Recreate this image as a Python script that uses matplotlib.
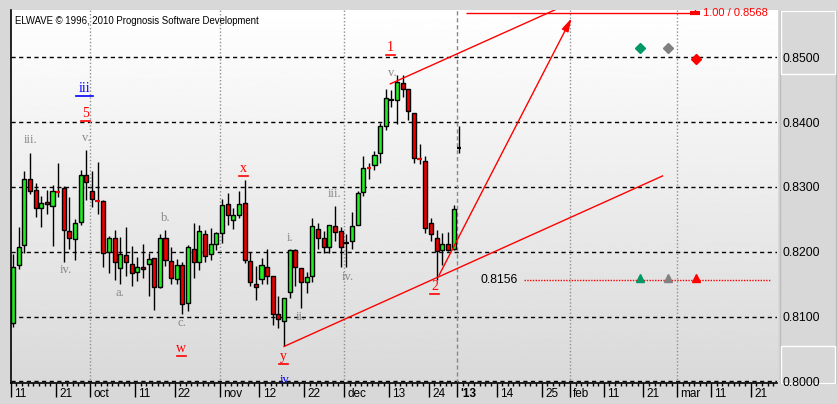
import numpy as np
import matplotlib.pyplot as plt
from matplotlib.patches import Rectangle
from matplotlib.transforms import ScaledTranslation

# ── Data: daily bars, Sep 11 2012 .. Jan 2 2013 (trading-day index) ───────────
opens  = [0.8090, 0.8180, 0.8210, 0.8313, 0.8296, 0.8267, 0.8277, 0.8271, 0.8293, 0.8299,
          0.8232, 0.8219, 0.8246, 0.8318, 0.8293, 0.8280, 0.8279, 0.8199, 0.8222, 0.8175,
          0.8195, 0.8181, 0.8169, 0.8177, 0.8181, 0.8190, 0.8146, 0.8221, 0.8186, 0.8158,
          0.8179, 0.8121, 0.8205, 0.8185, 0.8227, 0.8196, 0.8212, 0.8229, 0.8274, 0.8249,
          0.8256, 0.8275, 0.8186, 0.8151, 0.8158, 0.8177, 0.8162, 0.8104, 0.8094, 0.8138,
          0.8203, 0.8175, 0.8153, 0.8163, 0.8235, 0.8221, 0.8208, 0.8240, 0.8232, 0.8213,
          0.8216, 0.8242, 0.8292, 0.8331, 0.8334, 0.8352, 0.8394, 0.8434, 0.8434, 0.8461,
          0.8451, 0.8414, 0.8344, 0.8340, 0.8245, 0.8222, 0.8203, 0.8212, 0.8204, 0.8360]
highs  = [0.8197, 0.8238, 0.8324, 0.8353, 0.8306, 0.8286, 0.8296, 0.8303, 0.8337, 0.8301,
          0.8284, 0.8251, 0.8326, 0.8357, 0.8325, 0.8338, 0.8280, 0.8224, 0.8234, 0.8223,
          0.8239, 0.8209, 0.8192, 0.8212, 0.8198, 0.8190, 0.8227, 0.8234, 0.8207, 0.8189,
          0.8185, 0.8210, 0.8244, 0.8241, 0.8233, 0.8236, 0.8231, 0.8281, 0.8290, 0.8267,
          0.8294, 0.8311, 0.8200, 0.8178, 0.8190, 0.8204, 0.8163, 0.8132, 0.8129, 0.8204,
          0.8204, 0.8175, 0.8169, 0.8252, 0.8244, 0.8232, 0.8241, 0.8271, 0.8239, 0.8227,
          0.8262, 0.8293, 0.8348, 0.8337, 0.8355, 0.8398, 0.8451, 0.8450, 0.8473, 0.8473,
          0.8451, 0.8414, 0.8367, 0.8347, 0.8252, 0.8233, 0.8229, 0.8230, 0.8272, 0.8394]
lows   = [0.8084, 0.8173, 0.8198, 0.8289, 0.8253, 0.8239, 0.8259, 0.8209, 0.8285, 0.8185,
          0.8205, 0.8187, 0.8241, 0.8280, 0.8269, 0.8259, 0.8177, 0.8168, 0.8157, 0.8151,
          0.8162, 0.8147, 0.8155, 0.8159, 0.8132, 0.8110, 0.8144, 0.8178, 0.8151, 0.8150,
          0.8104, 0.8108, 0.8159, 0.8172, 0.8185, 0.8188, 0.8203, 0.8214, 0.8241, 0.8235,
          0.8252, 0.8183, 0.8148, 0.8125, 0.8150, 0.8150, 0.8087, 0.8082, 0.8054, 0.8128,
          0.8147, 0.8114, 0.8136, 0.8154, 0.8205, 0.8198, 0.8198, 0.8216, 0.8177, 0.8176,
          0.8205, 0.8241, 0.8286, 0.8312, 0.8326, 0.8337, 0.8388, 0.8423, 0.8397, 0.8439,
          0.8403, 0.8337, 0.8336, 0.8229, 0.8216, 0.8156, 0.8180, 0.8202, 0.8203, 0.8352]
closes = [0.8177, 0.8208, 0.8312, 0.8294, 0.8267, 0.8275, 0.8273, 0.8293, 0.8292, 0.8234,
          0.8221, 0.8245, 0.8318, 0.8307, 0.8281, 0.8279, 0.8198, 0.8221, 0.8184, 0.8196,
          0.8184, 0.8167, 0.8177, 0.8173, 0.8189, 0.8146, 0.8221, 0.8188, 0.8160, 0.8179,
          0.8120, 0.8207, 0.8184, 0.8232, 0.8194, 0.8212, 0.8229, 0.8272, 0.8257, 0.8257,
          0.8274, 0.8188, 0.8153, 0.8146, 0.8179, 0.8163, 0.8104, 0.8096, 0.8128, 0.8203,
          0.8176, 0.8153, 0.8161, 0.8240, 0.8222, 0.8207, 0.8241, 0.8231, 0.8207, 0.8213,
          0.8240, 0.8290, 0.8329, 0.8330, 0.8350, 0.8394, 0.8437, 0.8434, 0.8462, 0.8451,
          0.8417, 0.8344, 0.8343, 0.8236, 0.8227, 0.8201, 0.8212, 0.8203, 0.8266, 0.8360]

# x-axis ticks (trading-day index) and labels
tick_idx    = [0, 8, 14, 22, 29, 37, 44, 52, 59, 67, 74, 79, 86, 94, 99, 105, 112, 118, 124, 131]
tick_labels = ["11", "21", "oct", "11", "22", "nov", "12", "22", "dec", "13", "24", "'13",
               "14", "25", "feb", "11", "21", "mar", "11", "21"]
month_idx = [14, 37, 59, 99, 118]
year_idx  = [79]

# Elliott wave labels: (text, index, price, colour, underlined)
wave_labels = [
    ("iii.", 3.1, 0.8372, "gray", False), ("iii", 12.7, 0.8452, "blue", True),
    ("5", 12.85, 0.8414, "red", True),    ("v.", 13.0, 0.8376, "gray", False),
    ("iv.", 9.4, 0.8172, "gray", False),  ("a.", 19.0, 0.8137, "gray", False),
    ("b.", 27.1, 0.8252, "gray", False),  ("c.", 30.0, 0.8090, "gray", False),
    ("w", 29.8, 0.8051, "red", True),     ("x", 40.8, 0.8329, "red", True),
    ("i.", 49.1, 0.8221, "gray", False),  ("ii.", 51.0, 0.8100, "gray", False),
    ("iii.", 57.0, 0.8289, "gray", False), ("iv.", 59.3, 0.8161, "gray", False),
    ("v.", 67.1, 0.8476, "gray", False),  ("1", 66.8, 0.8515, "red", True),
    ("2", 74.7, 0.8146, "red", True),     ("y", 47.9, 0.8039, "red", True),
    ("iv", 48.1, 0.8002, "blue", False),
]
label_colours = {"gray": "#888888", "blue": "#0000ff", "red": "#ff0000"}

# Channel and target projections
channel_low  = ([48, 115], [0.8054, 0.8317])
channel_high = ([66.8, 100], [0.8459, 0.8589])
arrow_from   = (75.2, 0.8160)
arrow_to     = (99.1, 0.8564)
target_price = 0.8568
target_span  = (80.2, 120.8)
support_price = 0.8156
support_span  = (90.5, 134.2)
signal_idx    = [111.0, 116.0, 120.9]
signal_cols   = ["#009966", "#808080", "#ff0000"]
diamond_price = [0.8514, 0.8514, 0.8498]

# ── Figure ─────────────────────────────────────────────────────────────────────
W, H = 838, 404
BG = "#d8d8d8"
fig = plt.figure(figsize=(W / 100, H / 100), dpi=100, facecolor=BG)
ax = fig.add_axes([10.7 / W, (H - 383.3) / H, (776.7 - 10.7) / W, (383.3 - 10) / H])

grad = np.linspace(0.85, 1.0, 256).reshape(-1, 1)
ax.imshow(grad, extent=[0, 1, 0, 1], transform=ax.transAxes, aspect="auto",
          cmap="gray", vmin=0, vmax=1, origin="lower", zorder=0)

# grid
for lvl in [0.80, 0.81, 0.82, 0.83, 0.84, 0.85]:
    ax.axhline(lvl, color="black", lw=1, ls=(0, (3, 2.5)), zorder=1)
for m in month_idx:
    ax.axvline(m - 0.4, color="#909090", lw=1, ls=(0, (1, 1.5)), zorder=1)
for y in year_idx:
    ax.axvline(y - 0.45, color="#888888", lw=1, ls=(0, (3, 2)), zorder=1)

# candles
o, h, l, c = map(np.array, (opens, highs, lows, closes))
x = np.arange(len(o))
ax.vlines(x, l, h, color="black", lw=1, zorder=3)
body = np.abs(c - o)
solid = body >= 0.0002
cols = np.where(c > o, "#22ee22", "#ee0000")
ax.bar(x[solid], body[solid], bottom=np.minimum(o, c)[solid], width=0.72,
       color=cols[solid], edgecolor="black", linewidth=1, zorder=4)
for i in x[~solid]:
    dc = "black" if c[i] == o[i] else cols[i]
    ax.hlines(c[i], i - 0.4, i + 0.4, color=dc, lw=1.6, zorder=4)

# projections
ax.plot(*channel_low, color="red", lw=1, zorder=5)
ax.plot(*channel_high, color="red", lw=1, zorder=5)
ax.annotate("", xy=arrow_to, xytext=arrow_from,
            arrowprops=dict(arrowstyle="-|>,head_length=0.8,head_width=0.22",
                            color="red", lw=1), zorder=5)
ax.hlines(target_price, *target_span, color="red", lw=1, zorder=5)
ax.plot(target_span[1], target_price, marker="_", ms=7, mew=3, color="red", zorder=5)
ax.vlines(target_span[1], target_price, 0.8575, color="red", lw=1, zorder=5)
ax.text(target_span[1] + 1.4, target_price, "1.00 / 0.8568", color="red",
        fontsize=8, va="center", ha="left", family="Liberation Sans")
ax.hlines(support_price, *support_span, color="red", lw=1, ls=(0, (1, 1)), zorder=5)
ax.text(support_span[0] - 1.1, support_price, "0.8156", color="black",
        fontsize=8.7, va="center", ha="right", family="Liberation Sans")
for xi, col, dp in zip(signal_idx, signal_cols, diamond_price):
    ax.plot(xi, support_price + 0.0003, marker="^", ms=6, color=col, mec=col, zorder=6)
    ax.plot(xi, dp, marker="D", ms=5, color=col, mec=col, zorder=6)

# wave labels (underline drawn as a short line just below the text)
under = ax.transData + ScaledTranslation(0, -7.5 / 100, fig.dpi_scale_trans)
for txt, xi, yi, col, ul in wave_labels:
    colour = label_colours[col]
    ax.text(xi, yi, txt, color=colour, fontsize=10 if ul else 9, ha="center",
            va="center", family="Liberation Serif", zorder=7)
    if ul:
        half = 0.45 + 0.35 * len(txt)
        ax.plot([xi - half, xi + half], [yi, yi], color=colour, lw=1.2,
                transform=under, zorder=7)

ax.text(0.006, 0.985, "ELWAVE \u00a9 1996, 2010 Prognosis Software Development",
        transform=ax.transAxes, fontsize=6.9, va="top", ha="left",
        family="Liberation Sans", zorder=7)

# axes
ax.set_xlim(-0.354, 135.2)
ax.set_ylim(0.79972, 0.85729)
for s in ["top", "right"]:
    ax.spines[s].set_visible(False)
ax.spines["left"].set_linewidth(1.2)
ax.spines["bottom"].set_linewidth(1.2)
ax.yaxis.tick_right()
ax.set_yticks([0.80, 0.81, 0.82, 0.83, 0.84, 0.85])
ax.set_yticklabels(["0.8000", "0.8100", "0.8200", "0.8300", "0.8400", "0.8500"],
                   family="Liberation Sans")
ax.tick_params(axis="y", length=0, pad=4.5, labelsize=8.7)
ax.set_xticks([t - 0.4 for t in tick_idx])
ax.set_xticklabels([])
ax.set_xticks(np.arange(0, 136) - 0.4, minor=True)
ax.tick_params(axis="x", which="major", length=10, width=1, direction="out")
ax.tick_params(axis="x", which="minor", length=2, width=1, direction="out")
for t, lbl in zip(tick_idx, tick_labels):
    ax.annotate(lbl, xy=(t - 0.4, 0), xycoords=("data", "axes fraction"),
                xytext=(2.4, -7.5), textcoords="offset points", ha="left", va="center",
                fontsize=8.5, family="Liberation Sans",
                fontweight="bold" if lbl == "'13" else "normal")

# right price panel boxes (behind the price labels)
def px(x0, y0, w, h_):
    return (x0 / W, 1 - (y0 + h_) / H), w / W, h_ / H

for (x0, y0, w, h_), ec in [((780, 11, 55.5, 372), "#bcbcbc"),
                            ((781, 11.5, 54, 62), "white"),
                            ((781, 346, 54, 36.5), "white")]:
    xy, ww, hh = px(x0, y0, w, h_)
    fig.patches.append(Rectangle(xy, ww, hh, transform=fig.transFigure,
                                 facecolor="none", edgecolor=ec, lw=1, zorder=-1))

fig.savefig("out.png", dpi=100, facecolor=BG)
